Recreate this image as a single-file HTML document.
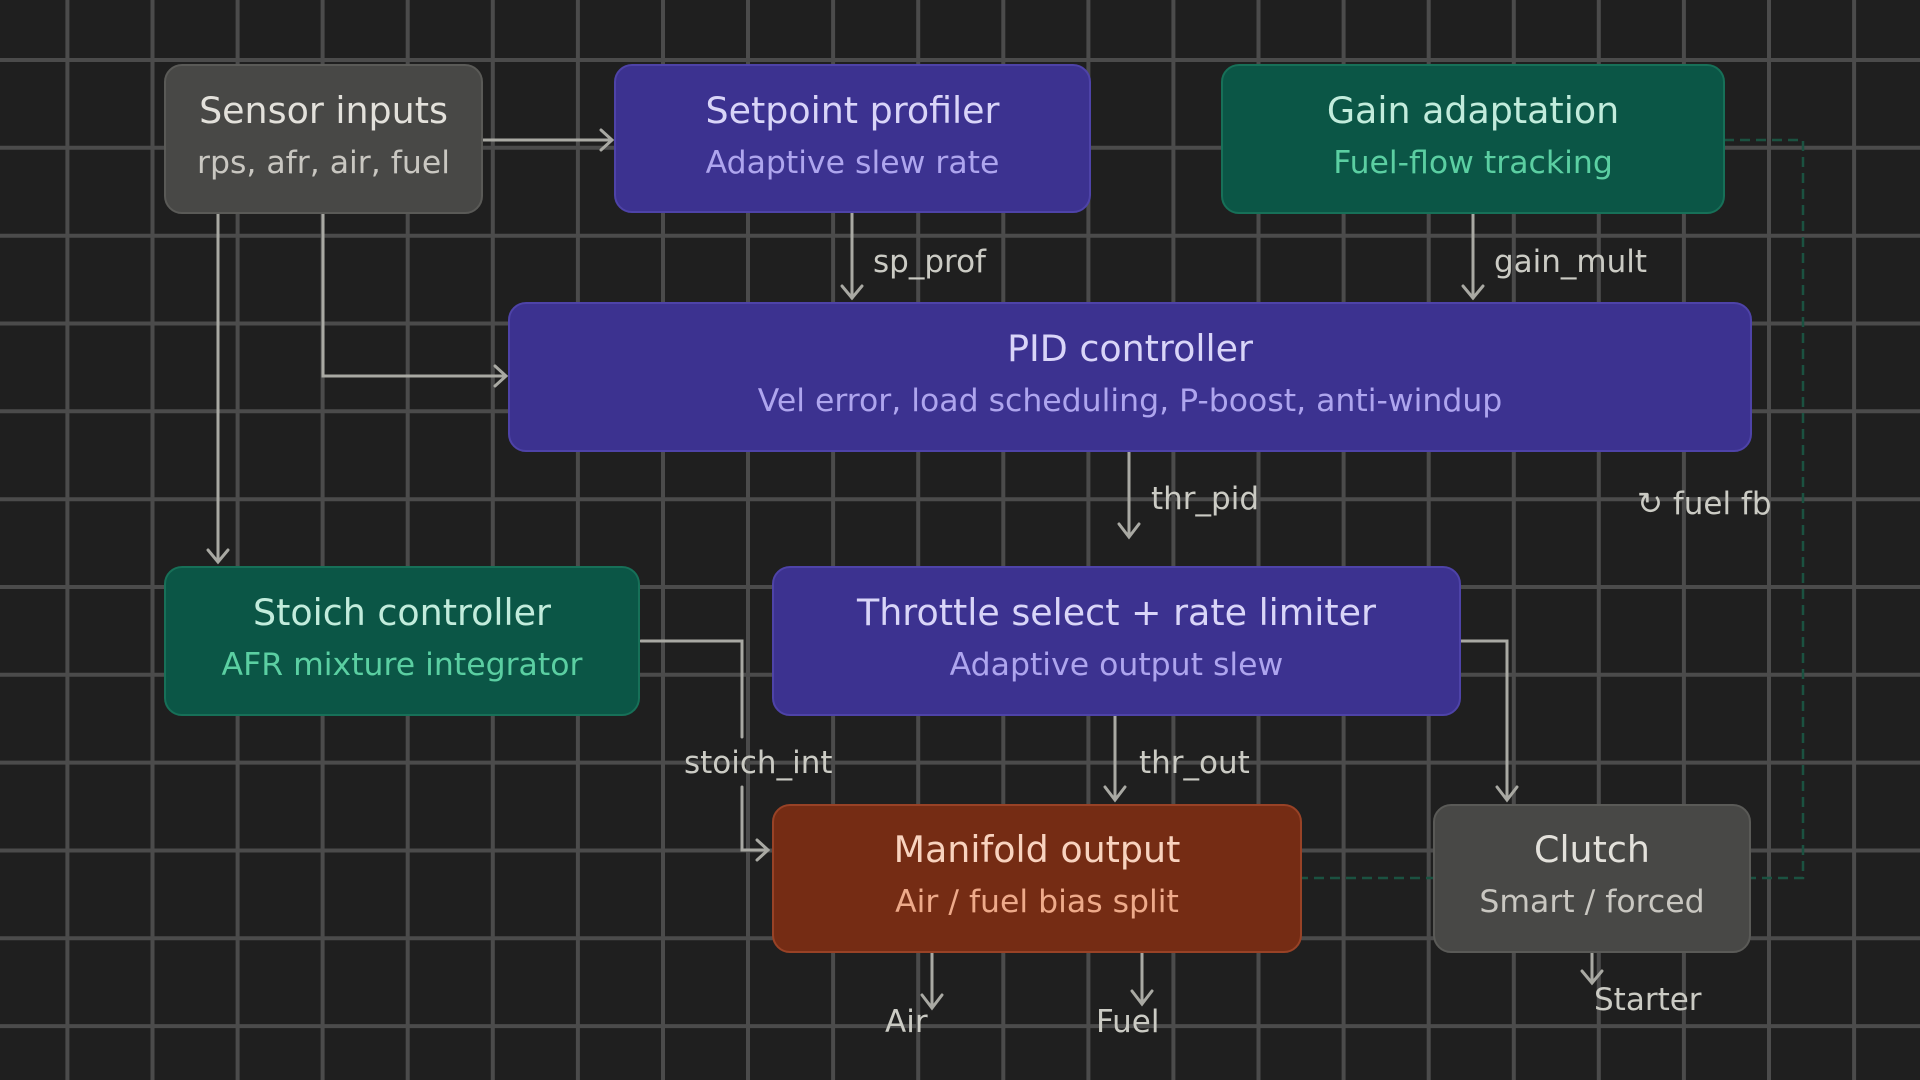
<!DOCTYPE html>
<html><head><meta charset="utf-8"><style>
html,body{margin:0;padding:0;background:#1f1f1f;}
svg{display:block;}
text{font-family:"DejaVu Sans","Liberation Sans",sans-serif;}
</style></head><body>
<svg width="1920" height="1080" viewBox="0 0 1920 1080" xmlns="http://www.w3.org/2000/svg">
<rect width="1920" height="1080" fill="#1f1f1f"/>
<g stroke="#4b4b4b" stroke-width="4">
<line x1="67.4" y1="0" x2="67.4" y2="1080"/><line x1="152.5" y1="0" x2="152.5" y2="1080"/><line x1="237.6" y1="0" x2="237.6" y2="1080"/><line x1="322.6" y1="0" x2="322.6" y2="1080"/><line x1="407.7" y1="0" x2="407.7" y2="1080"/><line x1="492.8" y1="0" x2="492.8" y2="1080"/><line x1="577.9" y1="0" x2="577.9" y2="1080"/><line x1="663" y1="0" x2="663" y2="1080"/><line x1="748" y1="0" x2="748" y2="1080"/><line x1="833.1" y1="0" x2="833.1" y2="1080"/><line x1="918.2" y1="0" x2="918.2" y2="1080"/><line x1="1003.3" y1="0" x2="1003.3" y2="1080"/><line x1="1088.4" y1="0" x2="1088.4" y2="1080"/><line x1="1173.4" y1="0" x2="1173.4" y2="1080"/><line x1="1258.5" y1="0" x2="1258.5" y2="1080"/><line x1="1343.6" y1="0" x2="1343.6" y2="1080"/><line x1="1428.7" y1="0" x2="1428.7" y2="1080"/><line x1="1513.8" y1="0" x2="1513.8" y2="1080"/><line x1="1598.8" y1="0" x2="1598.8" y2="1080"/><line x1="1683.9" y1="0" x2="1683.9" y2="1080"/><line x1="1769" y1="0" x2="1769" y2="1080"/><line x1="1854.1" y1="0" x2="1854.1" y2="1080"/>
<line x1="0" y1="60" x2="1920" y2="60"/><line x1="0" y1="147.8" x2="1920" y2="147.8"/><line x1="0" y1="235.7" x2="1920" y2="235.7"/><line x1="0" y1="323.5" x2="1920" y2="323.5"/><line x1="0" y1="411.3" x2="1920" y2="411.3"/><line x1="0" y1="499.2" x2="1920" y2="499.2"/><line x1="0" y1="587" x2="1920" y2="587"/><line x1="0" y1="674.8" x2="1920" y2="674.8"/><line x1="0" y1="762.6" x2="1920" y2="762.6"/><line x1="0" y1="850.5" x2="1920" y2="850.5"/><line x1="0" y1="938.3" x2="1920" y2="938.3"/><line x1="0" y1="1026.1" x2="1920" y2="1026.1"/>
</g>

<!-- dashed feedback -->
<path d="M1724 140 H1803 V878 H1301" fill="none" stroke="#1b5241" stroke-width="2.5" stroke-dasharray="10 6"/>

<!-- connectors -->
<g fill="none" stroke="#a9a9a3" stroke-width="3" stroke-linecap="round" stroke-linejoin="miter">
<path d="M482 140 H611"/><path d="M601 130 L612 140 L601 150"/>
<path d="M218 213 V561"/><path d="M208 550 L218 562 L228 550"/>
<path d="M323 213 V376 H505"/><path d="M495 366 L506 376 L495 386"/>
<path d="M852 213 V298"/><path d="M842 286 L852 298 L862 286"/>
<path d="M1473 213 V298"/><path d="M1463 286 L1473 298 L1483 286"/>
<path d="M1129 452 V536"/><path d="M1119 524 L1129 537 L1139 524"/>
<path d="M1115 715 V799"/><path d="M1105 787 L1115 800 L1125 787"/>
<path d="M641 641 H742 V737"/><path d="M742 787 V850 H767"/><path d="M757 840 L768 850 L757 860"/>
<path d="M1460 641 H1507 V799"/><path d="M1497 787 L1507 800 L1517 787"/>
<path d="M932 952 V1007"/><path d="M922 995 L932 1008 L942 995"/>
<path d="M1142 952 V1003"/><path d="M1132 991 L1142 1004 L1152 991"/>
<path d="M1592 952 V982"/><path d="M1582 971 L1592 983 L1602 971"/>
</g>

<!-- boxes -->
<g stroke-width="2">
<rect x="165" y="65" width="317" height="148" rx="17" fill="#484846" stroke="#5a5a57"/>
<rect x="615" y="65" width="475" height="147" rx="17" fill="#3c3290" stroke="#4e43a8"/>
<rect x="1222" y="65" width="502" height="148" rx="17" fill="#0b5646" stroke="#177058"/>
<rect x="509" y="303" width="1242" height="148" rx="17" fill="#3c3290" stroke="#4e43a8"/>
<rect x="165" y="567" width="474" height="148" rx="17" fill="#0b5646" stroke="#177058"/>
<rect x="773" y="567" width="687" height="148" rx="17" fill="#3c3290" stroke="#4e43a8"/>
<rect x="773" y="805" width="528" height="147" rx="17" fill="#752c14" stroke="#984226"/>
<rect x="1434" y="805" width="316" height="147" rx="17" fill="#484846" stroke="#5a5a57"/>
</g>

<!-- box text -->
<g text-anchor="middle">
<text x="323.5" y="123" font-size="36.4" fill="#e3e1db">Sensor inputs</text>
<text x="323.5" y="173" font-size="31.5" fill="#c9c7c1">rps, afr, air, fuel</text>
<text x="852.5" y="123" font-size="36.4" fill="#d9d5f8">Setpoint profiler</text>
<text x="852.5" y="173" font-size="31.5" fill="#aea5ee">Adaptive slew rate</text>
<text x="1473" y="123" font-size="36.4" fill="#c2ecdc">Gain adaptation</text>
<text x="1473" y="173" font-size="31.5" fill="#5bcfa2">Fuel-flow tracking</text>
<text x="1130" y="361" font-size="36.4" fill="#d9d5f8">PID controller</text>
<text x="1130" y="411" font-size="31.5" fill="#aea5ee">Vel error, load scheduling, P-boost, anti-windup</text>
<text x="402" y="625" font-size="36.4" fill="#c2ecdc">Stoich controller</text>
<text x="402" y="675" font-size="31.5" fill="#5bcfa2">AFR mixture integrator</text>
<text x="1116.5" y="625" font-size="36.4" fill="#d9d5f8">Throttle select + rate limiter</text>
<text x="1116.5" y="675" font-size="31.5" fill="#aea5ee">Adaptive output slew</text>
<text x="1037" y="862" font-size="36.4" fill="#f8d3bf">Manifold output</text>
<text x="1037" y="912" font-size="31.5" fill="#eeaa8a">Air / fuel bias split</text>
<text x="1592" y="862" font-size="36.4" fill="#e3e1db">Clutch</text>
<text x="1592" y="912" font-size="31.5" fill="#c9c7c1">Smart / forced</text>
</g>

<!-- labels -->
<g font-size="31" fill="#cbcbc4">
<text x="873" y="272">sp_prof</text>
<text x="1494" y="272">gain_mult</text>
<text x="1151" y="509">thr_pid</text>
<text x="1637" y="514">↻ fuel fb</text>
<text x="684" y="773">stoich_int</text>
<text x="1139" y="773">thr_out</text>
<text x="885" y="1032">Air</text>
<text x="1096" y="1032">Fuel</text>
<text x="1594" y="1010">Starter</text>
</g>
</svg>
</body></html>
